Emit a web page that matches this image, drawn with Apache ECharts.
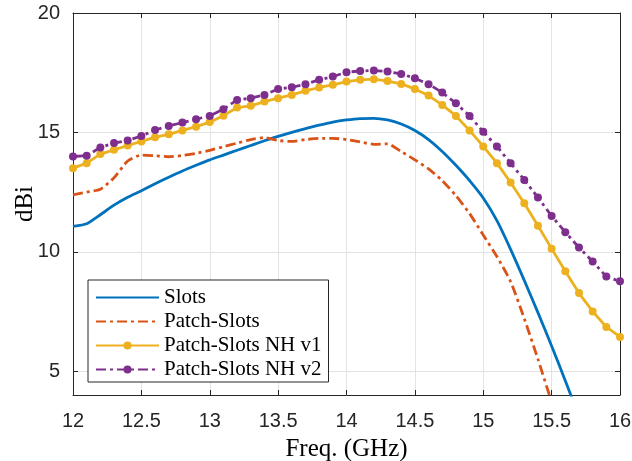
<!DOCTYPE html>
<html>
<head>
<meta charset="utf-8">
<script src="https://cdn.jsdelivr.net/npm/echarts@6/dist/echarts.min.js"></script>
<style>
  html, body { margin: 0; padding: 0; background: #fff; }
  #gain { width: 632px; height: 461px; }
</style>
</head>
<body>
<div id="gain"></div>
<script>
// frequency points (GHz), 0.1 GHz step as sampled in the plot
let freq = [12.0, 12.1, 12.2, 12.3, 12.4, 12.5, 12.6, 12.7, 12.8, 12.9,
            13.0, 13.1, 13.2, 13.3, 13.4, 13.5, 13.6, 13.7, 13.8, 13.9,
            14.0, 14.1, 14.2, 14.3, 14.4, 14.5, 14.6, 14.7, 14.8, 14.9,
            15.0, 15.1, 15.2, 15.3, 15.4, 15.5, 15.6, 15.7, 15.8, 15.9, 16.0];

let slots = [11.06, 11.17, 11.55, 11.95, 12.28, 12.55, 12.85, 13.12, 13.38, 13.62,
             13.85, 14.05, 14.25, 14.45, 14.65, 14.83, 15.00, 15.16, 15.30, 15.43,
             15.52, 15.58, 15.59, 15.52, 15.35, 15.08, 14.70, 14.20, 13.62, 12.98,
             12.25, 11.30, 10.10, 8.80, 7.45, 6.05, 4.60, 3.10];

let patchSlots = [12.38, 12.50, 12.62, 13.10, 13.80, 14.05, 14.02, 13.98, 14.03, 14.12,
                  14.25, 14.40, 14.55, 14.70, 14.78, 14.66, 14.62, 14.70, 14.75, 14.75,
                  14.70, 14.60, 14.50, 14.52, 14.20, 13.85, 13.47, 12.98, 12.35, 11.60,
                  10.70, 9.80, 8.75, 7.20, 5.50, 3.70];

let nhV1 = [13.50, 13.71, 14.09, 14.27, 14.45, 14.62, 14.80, 14.92, 15.08, 15.24,
            15.43, 15.70, 16.04, 16.11, 16.29, 16.43, 16.57, 16.74, 16.88, 16.99,
            17.13, 17.20, 17.23, 17.15, 17.03, 16.82, 16.54, 16.15, 15.69, 15.08,
            14.41, 13.71, 12.90, 12.03, 11.09, 10.13, 9.18, 8.27, 7.50, 6.85, 6.43];

let nhV2 = [13.99, 14.02, 14.37, 14.55, 14.66, 14.85, 15.10, 15.27, 15.41, 15.55,
            15.69, 15.97, 16.36, 16.43, 16.57, 16.82, 16.89, 17.02, 17.20, 17.34,
            17.52, 17.57, 17.59, 17.55, 17.45, 17.27, 17.02, 16.67, 16.22, 15.69,
            15.03, 14.41, 13.71, 13.01, 12.27, 11.50, 10.82, 10.18, 9.59, 8.96, 8.76];

let yTicks = [5, 10, 15, 20];

function pairs(ys) {
    return ys.map((y, i) => [freq[i], y]);
}

let myChart = echarts.init(document.getElementById('gain'));

let axisColor = '#262626';
let serif = 'Liberation Serif';
let sans = 'Liberation Sans';
let dashDot = [10, 4, 3, 4];

let baseX = {
    type: 'value',
    min: 12,
    max: 16,
    interval: 0.5,
    axisLine: { show: true, onZero: false, lineStyle: { color: axisColor, width: 1 } },
    axisTick: { show: true, inside: true, length: 5, lineStyle: { color: axisColor } }
};

let baseY = {
    type: 'value',
    min: 4,
    max: 20,
    axisLine: { show: true, onZero: false, lineStyle: { color: axisColor, width: 1 } },
    axisTick: { show: true, inside: true, length: 5, customValues: yTicks, lineStyle: { color: axisColor } }
};

let option = {
    animation: false,
    backgroundColor: '#fff',
    grid: {
        left: 73,
        right: 12,
        top: 13,
        bottom: 66,
        outerBoundsMode: 'none'
    },
    legend: {
        orient: 'vertical',
        left: 88,
        top: 280,
        padding: [7, 7, 2, 7],
        itemGap: 3,
        itemWidth: 63,
        itemHeight: 10,
        backgroundColor: '#fff',
        borderColor: axisColor,
        borderWidth: 1,
        borderRadius: 0,
        textStyle: { fontFamily: serif, fontSize: 21, color: '#000' },
        data: [
            { name: 'Slots', itemStyle: { opacity: 0 } },
            { name: 'Patch-Slots', itemStyle: { opacity: 0 } },
            'Patch-Slots NH v1',
            'Patch-Slots NH v2'
        ]
    },
    xAxis: [
        Object.assign({}, baseX, {
            position: 'bottom',
            name: 'Freq. (GHz)',
            nameLocation: 'middle',
            nameGap: 42,
            nameTextStyle: { fontFamily: serif, fontSize: 25, color: '#000' },
            axisLabel: { margin: 16, fontFamily: sans, fontSize: 20, color: axisColor },
            splitLine: { show: true, lineStyle: { color: '#e3e3e3', width: 1 } }
        }),
        Object.assign({}, baseX, {
            position: 'top',
            axisLabel: { show: false },
            splitLine: { show: false }
        })
    ],
    yAxis: [
        Object.assign({}, baseY, {
            position: 'left',
            name: 'dBi',
            nameLocation: 'middle',
            nameGap: 35,
            nameMoveOverlap: false,
            nameTextStyle: { fontFamily: serif, fontSize: 25, color: '#000' },
            axisLabel: { margin: 13, customValues: yTicks, fontFamily: sans, fontSize: 20, color: axisColor },
            splitLine: { show: true, lineStyle: { color: '#e3e3e3', width: 1 } }
        }),
        Object.assign({}, baseY, {
            position: 'right',
            axisLabel: { show: false },
            splitLine: { show: false }
        })
    ],
    series: [{
        name: 'Slots',
        type: 'line',
        symbol: 'none',
        smooth: 0.2,
        lineStyle: { color: '#0072BD', width: 2.8 },
        itemStyle: { color: '#0072BD' },
        data: pairs(slots)
    }, {
        name: 'Patch-Slots',
        type: 'line',
        symbol: 'none',
        smooth: 0.2,
        lineStyle: { color: '#D95319', width: 2.8, type: dashDot },
        itemStyle: { color: '#D95319' },
        data: pairs(patchSlots)
    }, {
        name: 'Patch-Slots NH v1',
        type: 'line',
        symbol: 'circle',
        symbolSize: 8,
        lineStyle: { color: '#EDB120', width: 2.8 },
        itemStyle: { color: '#EDB120' },
        data: pairs(nhV1)
    }, {
        name: 'Patch-Slots NH v2',
        type: 'line',
        symbol: 'circle',
        symbolSize: 8,
        lineStyle: { color: '#7E2F8E', width: 2.8, type: dashDot },
        itemStyle: { color: '#7E2F8E' },
        data: pairs(nhV2)
    }]
};

myChart.setOption(option);
</script>
</body>
</html>
